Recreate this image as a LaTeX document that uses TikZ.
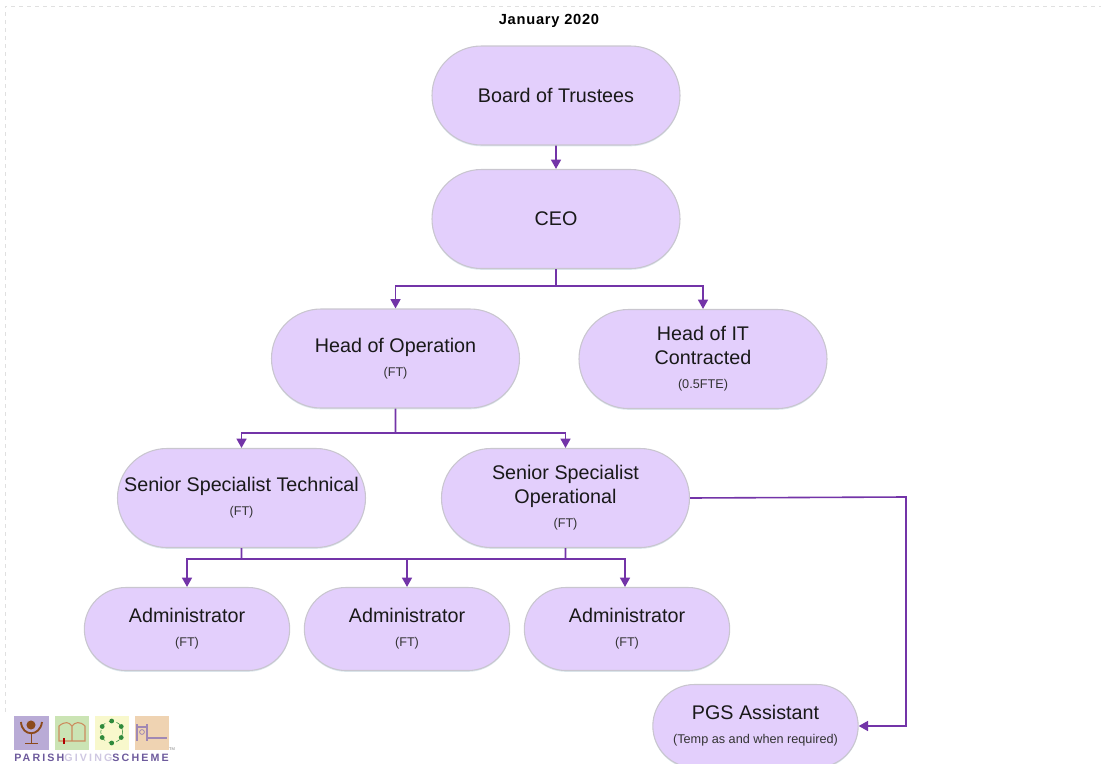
\documentclass[tikz,border=0pt]{standalone}
\usepackage{fontspec}
\setmainfont{Liberation Sans}
\usetikzlibrary{positioning}
\usetikzlibrary{shapes.misc}
\usetikzlibrary{shadows}
\usetikzlibrary{arrows.meta}
\definecolor{boxfill}{HTML}{E3CFFC}
\definecolor{boxedge}{HTML}{C9C6CF}
\definecolor{linkline}{HTML}{7334A8}
\definecolor{logopurple}{HTML}{B9ABD6}
\definecolor{logogreen}{HTML}{CBE4B4}
\definecolor{logoyellow}{HTML}{F8F8CC}
\definecolor{logopeach}{HTML}{EFD3B2}
\definecolor{logobrown}{HTML}{8B4A1C}
\definecolor{logotan}{HTML}{CC8C5E}
\definecolor{logoring}{HTML}{2F8A3C}
\definecolor{logomauve}{HTML}{A088B4}
\definecolor{logoword}{HTML}{6D5A9C}
\definecolor{logopale}{HTML}{CFC8E2}
\newcommand\minor[1]{{\fontsize{9.5}{10}\selectfont\color{black!80} #1}}
\tikzset{
	orgbox/.style={rounded rectangle, draw=boxedge, fill=boxfill, line width=0.8pt, inner sep=0, align=center, minimum width=186pt, minimum height=74.25pt, font=\fontsize{14.8}{18}\selectfont, text=black!90, drop shadow={shadow xshift=0pt, shadow yshift=-1pt, fill=cyan!40!gray, opacity=0.25}},
	smallbox/.style={orgbox, minimum width=154pt, minimum height=62.25pt},
	link/.style={draw=linkline, line width=1.2pt, -{Triangle[length=7pt, width=7.5pt]}},
	stub/.style={draw=linkline, line width=1.2pt},
}

\begin{document}
\begin{tikzpicture}[x=0.75pt, y=-0.75pt]
	\useasboundingbox (0, 0) rectangle (1101, 764);
	\draw[black!12, dashed, line width=0.6pt] (5, 712)--(5, 6)--(1101, 6);
	\node (title) at (549, 21) {\fontsize{11}{12}\selectfont\bfseries\addfontfeatures{LetterSpace=5}January 2020};

	\node[orgbox] (board) at (556, 95.5) {Board of Trustees};
	\node[orgbox] (ceo) at (556, 219) {CEO};
	\node[orgbox] (headop) at (395.5, 358.5) {Head of Operation\\[0pt]\minor{(FT)}};
	\node[orgbox] (headit) at (703, 359) {Head of IT\\Contracted\\[0pt]\minor{(0.5FTE)}};
	\node[orgbox] (seniortech) at (241.5, 498) {Senior Specialist Technical\\[0pt]\minor{(FT)}};
	\node[orgbox] (seniorop) at (565.5, 498) {Senior Specialist\\Operational\\[0pt]\minor{(FT)}};
	\node[smallbox] (admina) at (187, 629) {Administrator\\[0pt]\minor{(FT)}};
	\node[smallbox] (adminb) at (407, 629) {Administrator\\[0pt]\minor{(FT)}};
	\node[smallbox] (adminc) at (627, 629) {Administrator\\[0pt]\minor{(FT)}};
	\node[smallbox] (pgs) at (755.5, 726) {PGS Assistant\\[0pt]\minor{(Temp as and when required)}};

	\coordinate (ceobus) at (556, 286);
	\coordinate (headbus) at (395.5, 433);
	\coordinate (seniorbus) at (565.5, 559);
	\coordinate (techdrop) at (241.5, 559);
	\coordinate (pgsturn) at (906, 497);

	\draw[link] (board)--(ceo);
	\draw[stub] (ceo)--(ceobus);
	\draw[link] (ceobus)-|(headop);
	\draw[link] (ceobus)-|(headit);
	\draw[stub] (headop)--(headbus);
	\draw[link] (headbus)-|(seniortech);
	\draw[link] (headbus)-|(seniorop);
	\draw[stub] (seniortech)--(techdrop);
	\draw[stub] (seniorop)--(seniorbus);
	\draw[link] (seniorbus)-|(admina);
	\draw[link] (seniorbus)-|(adminb);
	\draw[link] (seniorbus)-|([xshift=-1.5pt]adminc.north);
	\draw[link] (seniorop.east)--(pgsturn)|-(pgs.east);

	% logo squares
	\fill[logopurple] (14, 716) rectangle (49, 750);
	\fill[logogreen] (55, 716) rectangle (89, 750);
	\fill[logoyellow] (95, 716) rectangle (129, 750);
	\fill[logopeach] (135, 716) rectangle (169, 750);
	% chalice
	\fill[logobrown] (31, 725) circle (3.4pt);
	\draw[logobrown, line width=1.4pt] (21, 722)..controls (22, 737) and (40, 737)..(42, 722);
	\draw[logobrown, line width=0.7pt] (31, 733)--(31, 743) (25, 743)--(38, 743);
	% book
	\draw[logotan, line width=0.8pt] (59, 726)..controls (65, 721) and (69, 722)..(72, 726)..controls (75, 722) and (80, 721)..(85, 726)--(85, 741)--(59, 741)--cycle (72, 726)--(72, 741);
	\draw[red!70!black, line width=0.8pt] (64, 738)--(64, 744);
	% ring
	\draw[logoring, line width=0.4pt, dashed] (111.7, 732) circle (8.2pt);
	\foreach \ang in {30, 90, 150, 210, 270, 330}
		\fill[logoring] (111.7, 732)++(\ang:11) circle (1.8pt);
	% bed
	\draw[logomauve, line width=0.8pt] (137, 724)--(137, 741) (147, 724)--(147, 741) (137, 727)--(147, 727) (147, 738)--(167, 738);
	\draw[logomauve, line width=0.6pt] (142, 732) circle (1.8pt);

	\node[inner sep=0, anchor=west] (logotext) at (14, 758) {\fontsize{8}{9}\selectfont\bfseries\addfontfeatures{LetterSpace=20}\textcolor{logoword}{PARISH}\textcolor{logopale}{GIVING}\textcolor{logoword}{SCHEME}};
	\node[inner sep=0] (logotm) at (172, 749) {\fontsize{3}{3}\selectfont\color{gray}TM};
\end{tikzpicture}
\end{document}
